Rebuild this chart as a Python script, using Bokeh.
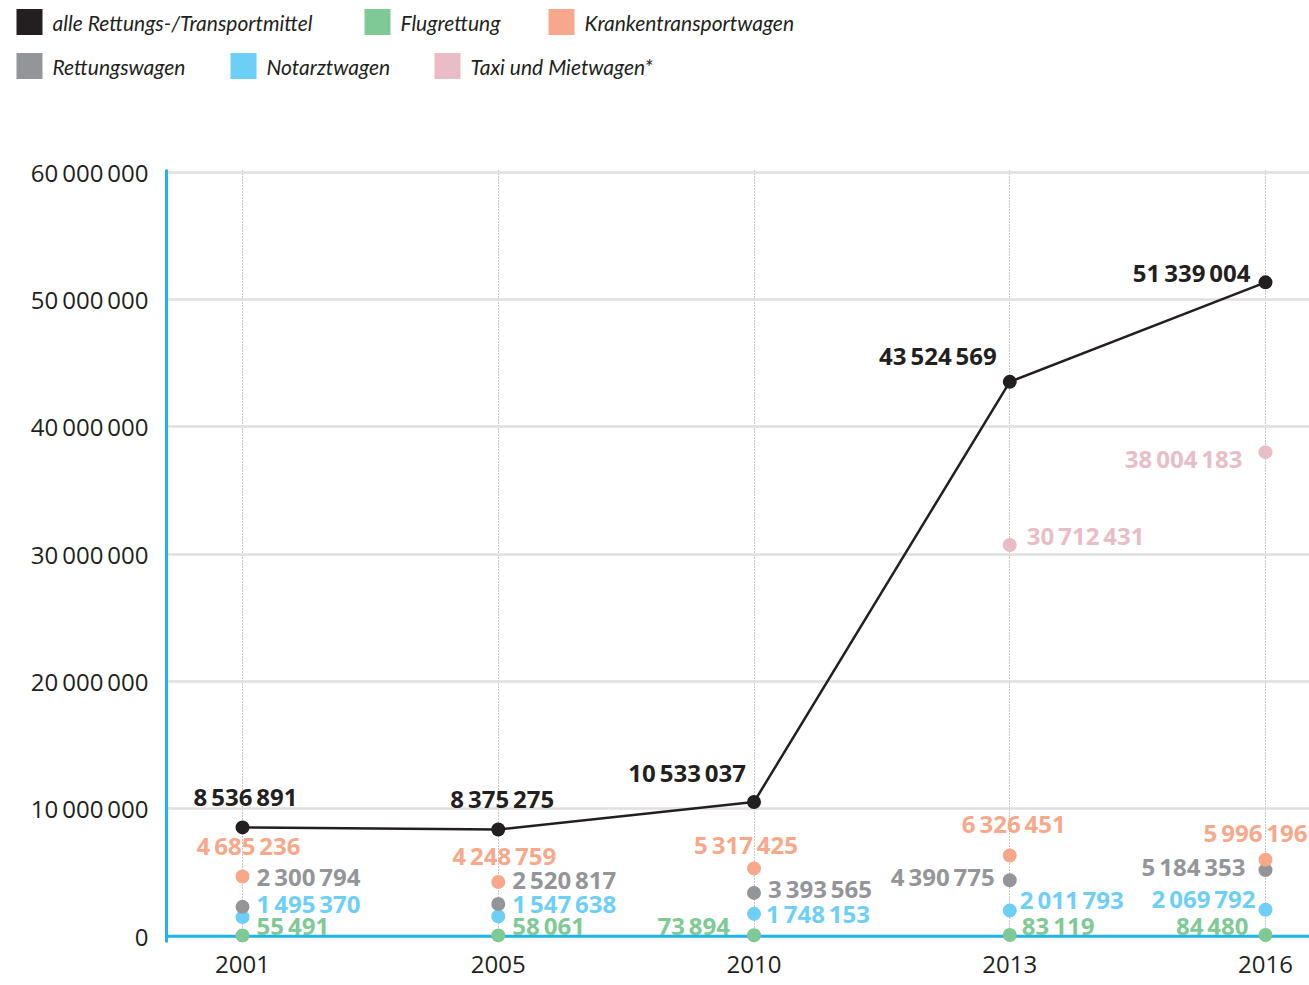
from bokeh.plotting import figure
from bokeh.models import Range1d, FixedTicker, Span
from bokeh.layouts import column
from bokeh.embed import file_html
from bokeh.resources import INLINE
from bokeh.core.properties import value

# ---------------- data ----------------
years = ["2001", "2005", "2010", "2013", "2016"]
alle = [8536891, 8375275, 10533037, 43524569, 51339004]
flug = [55491, 58061, 73894, 83119, 84480]
ktw = [4685236, 4248759, 5317425, 6326451, 5996196]
rtw = [2300794, 2520817, 3393565, 4390775, 5184353]
naw = [1495370, 1547638, 1748153, 2011793, 2069792]
taxi = [None, None, None, 30712431, 38004183]
y_ticks = [0, 10000000, 20000000, 30000000, 40000000, 50000000, 60000000]

legend_names = ["alle Rettungs-/Transportmittel", "Flugrettung", "Krankentransportwagen",
                "Rettungswagen", "Notarztwagen", "Taxi und Mietwagen*"]

# ---------------- style ----------------
C_BLACK = "#231f20"
C_GREEN = "#7ec995"
C_SALMON = "#f8a88a"
C_GRAY = "#939598"
C_BLUE = "#6dcff6"
C_PINK = "#e8bdc8"
C_AXIS = "#1fb5e8"
FONT = "Open Sans"

legend_colors = [C_BLACK, C_GREEN, C_SALMON, C_GRAY, C_BLUE, C_PINK]
# legend square left edge / row centre (legend canvas pixels)
legend_pos = [(16, 21.5), (364, 21.5), (548, 21.5), (16, 65.5), (230, 65.5), (434, 65.5)]

# label offsets (dx, dy, align) relative to each data point
off_alle = [(3, -31, "center"), (4, -31, "center"), (-8, -29, "right"), (-13, -26, "right"), (-15, -10, "right")]
off_ktw = [(6, -31, "center"), (6, -27, "center"), (-8, -24, "center"), (4, -32, "center"), (42, -27, "right")]
off_rtw = [(14, -30, "left"), (14, -25, "left"), (14, -4, "left"), (-15, -4, "right"), (-20, -4, "right")]
off_naw = [(14, -14, "left"), (14, -13, "left"), (12, 0, "left"), (10, -11, "left"), (-10, -11, "right")]
off_flug = [(14, -10, "left"), (14, -10, "left"), (-24, -10, "right"), (12, -10, "left"), (-17, -10, "right")]
off_taxi = [None, None, None, (17, -10, "left"), (-23, 6, "right")]


def fmt(v):
    return f"{v:,}".replace(",", "\u2009")


def no_align(fig):
    try:
        fig.frame_align = False
    except Exception:
        pass


W = 1309
LEG_H = 150

# ---------------- legend figure ----------------
leg = figure(width=W, height=LEG_H, x_range=Range1d(0, W), y_range=Range1d(LEG_H, 0),
             output_backend="svg", toolbar_location=None, min_border=0,
             x_axis_location=None, y_axis_location=None, outline_line_color=None)
leg.grid.visible = False
no_align(leg)
for name, col, (lx, ly) in zip(legend_names, legend_colors, legend_pos):
    leg.rect(x=[lx + 13], y=[ly], width=26, height=26, fill_color=col, line_color=None)
    leg.text(x=[lx + 36], y=[ly], text=[name], text_align="left", text_baseline="middle",
             text_font=value("Lato"), text_font_style="italic", text_font_size="21px",
             text_color=C_BLACK)

# ---------------- main figure ----------------
xs = list(range(len(years)))
p = figure(width=W, height=985 - LEG_H,
           x_range=Range1d(-0.2972, 4.172), y_range=Range1d(-500000, 60200000),
           output_backend="svg", toolbar_location=None,
           min_border_left=166, min_border_right=0, min_border_top=169 - LEG_H, min_border_bottom=43,
           outline_line_color=None)
no_align(p)

p.xaxis.ticker = FixedTicker(ticks=xs)
p.xaxis.major_label_overrides = {i: y for i, y in enumerate(years)}
p.xaxis.axis_line_color = None
p.xaxis.major_tick_line_color = None
p.xaxis.major_tick_out = 0
p.xaxis.minor_tick_line_color = None
p.xaxis.major_label_standoff = 13
p.xaxis.major_label_text_font = FONT
p.xaxis.major_label_text_font_size = "24px"
p.xaxis.major_label_text_color = C_BLACK

p.yaxis.ticker = FixedTicker(ticks=y_ticks)
p.yaxis.major_label_overrides = {t: fmt(t) for t in y_ticks}
p.yaxis.axis_line_color = C_AXIS
p.yaxis.axis_line_width = 3
p.yaxis.major_tick_line_color = None
p.yaxis.major_tick_out = 0
p.yaxis.minor_tick_line_color = None
p.yaxis.major_label_standoff = 18
p.yaxis.major_label_text_font = FONT
p.yaxis.major_label_text_font_size = "24px"
p.yaxis.major_label_text_color = C_BLACK

p.xgrid.ticker = FixedTicker(ticks=xs)
p.xgrid.grid_line_color = "#8c8c8c"
p.xgrid.grid_line_dash = "1 2"
p.xgrid.grid_line_width = 1
p.ygrid.ticker = FixedTicker(ticks=y_ticks)
p.ygrid.grid_line_color = "#e0e0e0"
p.ygrid.grid_line_width = 2.5

p.add_layout(Span(location=0, dimension="width", line_color=C_AXIS, line_width=3, level="underlay"))

# line for total
p.line(xs, alle, line_color=C_BLACK, line_width=2.5)

series = [
    (flug, C_GREEN, off_flug),
    (naw, C_BLUE, off_naw),
    (rtw, C_GRAY, off_rtw),
    (ktw, C_SALMON, off_ktw),
    (taxi, C_PINK, off_taxi),
    (alle, C_BLACK, off_alle),
]

for vals, col, offs in series:
    px = [i for i, v in zip(xs, vals) if v is not None]
    py = [v for v in vals if v is not None]
    p.scatter(px, py, size=14, fill_color=col, line_color=None)

for vals, col, offs in series:
    for i, v in zip(xs, vals):
        if v is None:
            continue
        dx, dy, al = offs[i]
        p.text(x=[i], y=[v], text=[fmt(v)], x_offset=dx, y_offset=dy,
               text_align=al, text_baseline="middle",
               text_font=value(FONT), text_font_style="bold", text_font_size="24px",
               text_color=col)

layout = column(leg, p)
open("out.html", "w").write(file_html(layout, INLINE))
